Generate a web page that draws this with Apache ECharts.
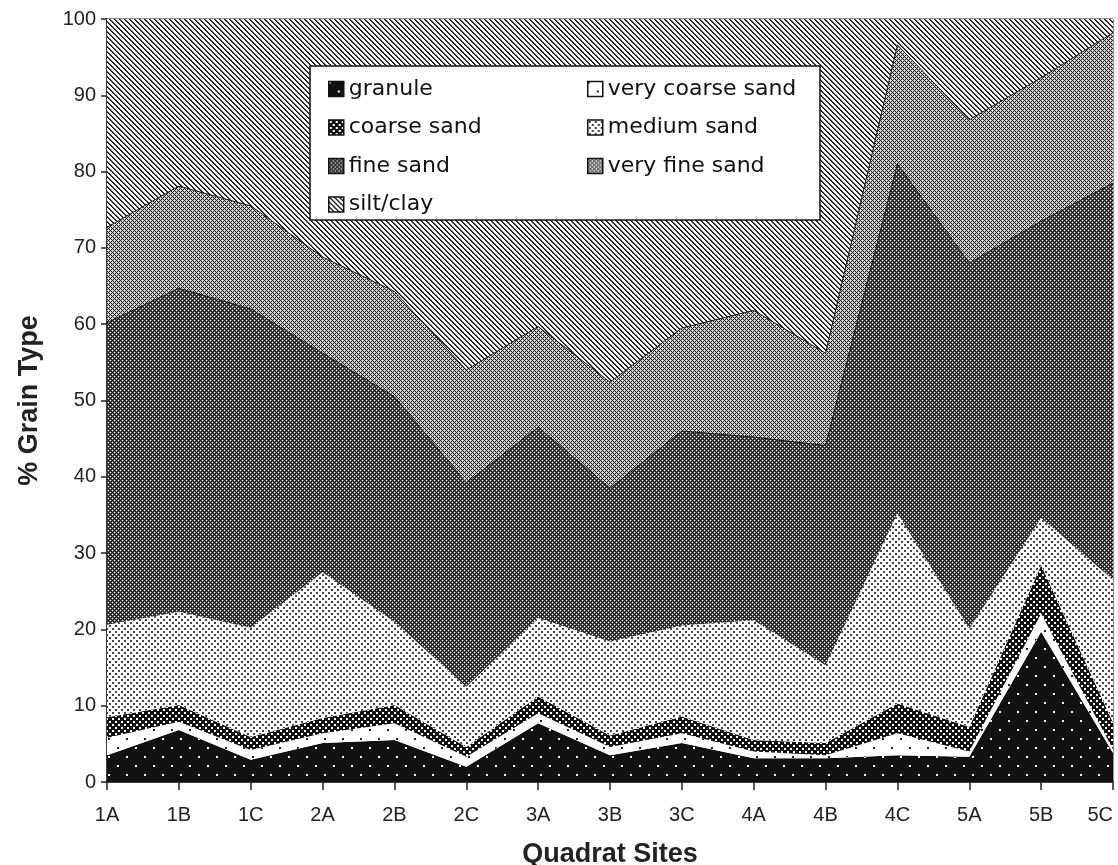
<!DOCTYPE html>
<html>
<head>
<meta charset="utf-8">
<script src="https://cdn.jsdelivr.net/npm/echarts@6/dist/echarts.min.js"></script>
<style>
  html, body { margin: 0; padding: 0; background: #fff; }
  #chart { width: 1118px; height: 865px; }
</style>
</head>
<body>
<div id="chart"></div>
<script>
const sites = ['1A', '1B', '1C', '2A', '2B', '2C', '3A', '3B', '3C', '4A', '4B', '4C', '5A', '5B', '5C'];
const yTicks = [0, 10, 20, 30, 40, 50, 60, 70, 80, 90, 100];

// % of each grain type per quadrat site (stacked bottom -> top)
const granule = [3.5, 6.8, 2.9, 5.1, 5.5, 2.0, 7.7, 3.5, 5.1, 3.1, 3.1, 3.5, 3.3, 19.7, 3.8];
const veryCoarseSand = [2.3, 1.1, 1.3, 1.3, 2.2, 1.3, 1.3, 1.1, 1.3, 0.9, 0.4, 2.9, 0.7, 2.4, 0.5];
const coarseSand = [2.7, 2.2, 1.7, 2.0, 2.4, 1.3, 2.2, 1.5, 2.2, 1.5, 1.6, 3.9, 3.2, 6.3, 3.5];
const mediumSand = [12.1, 12.2, 14.3, 19.1, 10.9, 7.9, 10.3, 12.3, 11.9, 15.7, 10.2, 24.9, 12.9, 6.2, 18.7];
const fineSand = [39.6, 42.4, 41.8, 28.7, 29.5, 26.7, 25.0, 20.1, 25.5, 24.0, 28.8, 45.8, 47.9, 38.9, 52.0];
const veryFineSand = [12.5, 13.4, 13.5, 12.6, 13.8, 14.8, 13.2, 13.9, 13.5, 16.6, 12.1, 15.6, 18.8, 18.8, 19.7];
const siltClay = [27.3, 21.9, 24.5, 31.2, 35.7, 46.0, 40.3, 47.6, 40.5, 38.2, 43.8, 3.4, 13.2, 7.7, 1.8];

// small bitmap fills, like the old excel patterns
function makeTile(w, h, pixel) {
  const c = document.createElement('canvas');
  c.width = w; c.height = h;
  const ctx = c.getContext('2d');
  for (let y = 0; y < h; y++) {
    for (let x = 0; x < w; x++) {
      ctx.fillStyle = pixel(x, y);
      ctx.fillRect(x, y, 1, 1);
    }
  }
  return { image: c, repeat: 'repeat' };
}

function dotted(w, h, bg, fg, spots) {
  return makeTile(w, h, (x, y) => spots.some(([sx, sy]) => x >= sx && x < sx + 2 && y >= sy && y < sy + 2) ? fg : bg);
}

const patGranule = dotted(18, 18, '#111', '#fff', [[0, 0], [9, 9]]);
const patVeryCoarse = dotted(18, 18, '#fff', '#222', [[0, 0], [9, 9]]);
const patCoarse = dotted(6, 6, '#111', '#fff', [[1, 1], [4, 4]]);
const patMedium = dotted(6, 6, '#fff', '#444', [[1, 1], [4, 4]]);
const patFine = makeTile(4, 4, (x, y) => {
  if ((x + y) % 4 === 0 || (x - y + 8) % 4 === 0) return '#111';
  if ((x === 2 && y === 0) || (x === 0 && y === 2)) return '#fff';
  return '#5e5e5e';
});
const patVeryFine = makeTile(4, 4, (x, y) => {
  if ((x + y) % 4 === 0 || (x - y + 8) % 4 === 0) return '#1a1a1a';
  if ((x === 2 && y === 0) || (x === 0 && y === 2)) return '#fff';
  return '#c8c8c8';
});
const patSilt = makeTile(5, 5, (x, y) => {
  const k = (x - y + 10) % 5;
  return k === 0 ? '#111' : (k === 1 ? '#444' : '#fff');
});

const layers = [
  ['granule', granule, patGranule, 0],
  ['very coarse sand', veryCoarseSand, patVeryCoarse, 0],
  ['coarse sand', coarseSand, patCoarse, 0],
  ['medium sand', mediumSand, patMedium, 0],
  ['fine sand', fineSand, patFine, 1],
  ['very fine sand', veryFineSand, patVeryFine, 1],
  ['silt/clay', siltClay, patSilt, 0]
];

const legendFont = { fontFamily: '"DejaVu Sans", sans-serif', fontSize: 22, color: '#111', lineHeight: 24 };
function legendItems(names) {
  return names.map(n => {
    const l = layers.find(s => s[0] === n);
    return { name: n, icon: 'rect', itemStyle: { color: l[2], borderColor: '#111', borderWidth: 1.5 } };
  });
}

const chart = echarts.init(document.getElementById('chart'));
chart.setOption({
  animation: false,
  backgroundColor: '#fff',
  grid: {
    left: 107, right: 5, top: 19, bottom: 83,
    outerBoundsMode: 'none',
    show: true, borderColor: '#222', borderWidth: 1
  },
  graphic: [{
    type: 'rect', z: 10,
    shape: { x: 310, y: 66, width: 510, height: 154 },
    style: { fill: '#fff', stroke: '#111', lineWidth: 1.5 }
  }],
  legend: [
    {
      orient: 'vertical', left: 323, top: 72, z: 20,
      itemWidth: 15, itemHeight: 15, itemGap: 14.5,
      textStyle: legendFont,
      data: legendItems(['granule', 'coarse sand', 'fine sand', 'silt/clay'])
    },
    {
      orient: 'vertical', left: 582, top: 72, z: 20,
      itemWidth: 15, itemHeight: 15, itemGap: 14.5,
      textStyle: legendFont,
      data: legendItems(['very coarse sand', 'medium sand', 'very fine sand'])
    }
  ],
  xAxis: {
    type: 'category',
    data: sites,
    boundaryGap: false,
    name: 'Quadrat Sites',
    nameLocation: 'middle',
    nameGap: 59,
    nameTextStyle: { fontFamily: '"Liberation Sans", Arial, sans-serif', fontSize: 27, fontWeight: 'bold', color: '#222' },
    axisLine: { lineStyle: { color: '#222', width: 1.5 } },
    axisTick: { length: 8, lineStyle: { color: '#222', width: 1.5 } },
    axisLabel: {
      margin: 23,
      alignMaxLabel: 'right',
      fontFamily: '"Liberation Sans", Arial, sans-serif', fontSize: 20, color: '#222'
    },
    splitLine: { show: false }
  },
  yAxis: {
    type: 'value',
    min: yTicks[0],
    max: yTicks[yTicks.length - 1],
    interval: 10,
    name: '% Grain Type',
    nameLocation: 'middle',
    nameGap: 64,
    nameRotate: 90,
    nameTextStyle: { fontFamily: '"Liberation Sans", Arial, sans-serif', fontSize: 27, fontWeight: 'bold', color: '#222' },
    axisLine: { show: true, lineStyle: { color: '#222', width: 1.5 } },
    axisTick: { show: true, length: 6, lineStyle: { color: '#222', width: 1.5 } },
    axisLabel: { margin: 11, fontFamily: '"Liberation Sans", Arial, sans-serif', fontSize: 20, color: '#222' },
    splitLine: { show: false }
  },
  series: layers.map(([name, values, pat, edge]) => ({
    name: name,
    type: 'line',
    stack: 'grain',
    data: values,
    symbol: 'none',
    itemStyle: { color: pat },
    lineStyle: { width: edge, color: '#111' },
    areaStyle: { color: pat, opacity: 1 },
    emphasis: { disabled: true }
  }))
});
</script>
</body>
</html>
